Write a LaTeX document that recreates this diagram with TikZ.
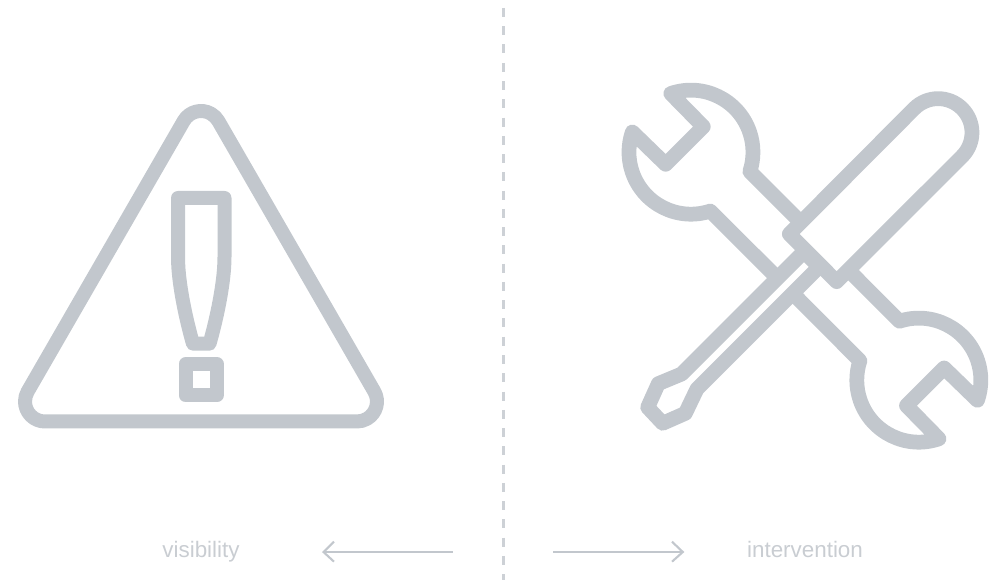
\documentclass[tikz,border=0pt]{standalone}
\usepackage{fontspec}
\setmainfont{Liberation Sans}
\definecolor{icon}{HTML}{C2C7CD}
\definecolor{lbl}{HTML}{C9CDD2}
\definecolor{dashcol}{HTML}{CDD1D6}
\tikzset{
  iconline/.style={draw=icon,line width=0.28cm,line join=round},
  toolline/.style={draw=icon,line width=0.295cm,line join=round},
  guide/.style={draw=icon,line width=0.042cm},
  barb/.style={draw=icon,line width=0.042cm,line join=miter},
  caption/.style={text=lbl,font=\fontsize{12.75pt}{15pt}\selectfont,anchor=base,inner sep=0pt}
}
\begin{document}
\begin{tikzpicture}[x=0.02cm,y=-0.02cm]
\useasboundingbox (0,0) rectangle (998,580);
% dashed divider
\coordinate (dtop) at (503.6,-10.3);
\coordinate (dbot) at (503.6,580);
\draw[draw=dashcol,line width=0.045cm,dash pattern=on 0.18cm off 0.1854cm] (dtop) -- (dbot);
% triangle
\draw[iconline] (183.7,121) arc[start angle=210,end angle=330,radius=20]
  -- (374.3,391.5) arc[start angle=-30,end angle=90,radius=20]
  -- (45,421.5) arc[start angle=90,end angle=210,radius=20] -- cycle;
% exclamation mark
\draw[iconline] (178,198) -- (224.5,198) -- (224.5,257)
  .. controls (224.5,285) and (215,325) .. (209.5,343.7) -- (193,343.7)
  .. controls (187.5,325) and (178,285) .. (178,257) -- cycle;
\draw[iconline] (185.5,364) rectangle (216.7,395.5);
% tools
\begin{scope}[shift={(600,70)},x=0.02cm/3,y=-0.02cm/3]
  % wrench head, upper left
  \draw[toolline] (535,627) -- (331,423.2) arc[start angle=71.8,end angle=199,radius=186]
    -- (197,283) -- (310,170) -- (212.4,70.6)
    arc[start angle=-109,end angle=18.2,radius=186] -- (602,457);
  % wrench head, lower right
  \draw[toolline] (746,601) -- (898.5,753.8) arc[start angle=251.8,end angle=379,radius=186]
    -- (1032.5,894) -- (919.5,1007) -- (1017,1106.4)
    arc[start angle=71,end angle=198.2,radius=186] -- (578,670);
  % screwdriver handle
  \draw[toolline] (568,492) -- (942.7,115.7)
    arc[start angle=-135,end angle=45,radius=101.5] -- (710,635) -- cycle;
  % screwdriver shaft and tip
  \draw[toolline] (612,545) -- (245,912) -- (175,941) -- (143,1012) -- (188,1060)
    -- (256,1030) -- (291,957) -- (657.5,590.5) -- cycle;
\end{scope}
% captions
\node[caption] (vis) at (201,557.2) {visibility};
\node[caption] (int) at (805,557.2) {intervention};
% arrows
\coordinate (ls) at (452.7,552);
\coordinate (le) at (323.5,552);
\coordinate (lu) at (334,541.7);
\coordinate (ld) at (334,561.7);
\draw[guide] (ls) -- (le);
\draw[barb] (lu) -- (le) -- (ld);
\coordinate (rs) at (553.3,552);
\coordinate (re) at (682.8,552);
\coordinate (ru) at (672,541.7);
\coordinate (rd) at (672,561.7);
\draw[guide] (rs) -- (re);
\draw[barb] (ru) -- (re) -- (rd);
\end{tikzpicture}
\end{document}
